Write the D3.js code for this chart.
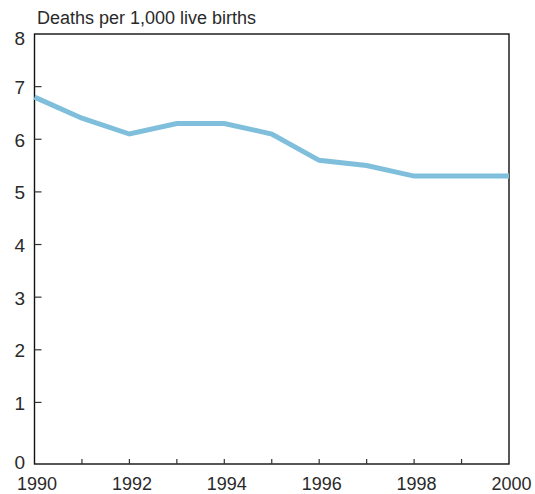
<!DOCTYPE html>
<html><head><meta charset="utf-8">
<script src="https://cdn.jsdelivr.net/npm/d3@7"></script>
<style>body{margin:0;background:#fff}svg{display:block}text{font-family:"Liberation Sans",Arial,sans-serif;fill:#2a2a2a}</style>
</head><body><svg id="c" width="535" height="494"></svg>
<script>
const years = [1990,1991,1992,1993,1994,1995,1996,1997,1998,1999,2000];
const deaths = [6.8,6.4,6.1,6.3,6.3,6.1,5.6,5.5,5.3,5.3,5.3];
const yTickValues = [1,2,3,4,5,6,7];
const yLabels = ["0","1","2","3","4","5","6","7","8"];
const xLabelYears = [1990,1992,1994,1996,1998,2000];
const yTitle = "Deaths per 1,000 live births";

const svg = d3.select("#c");
const L = 34.5, R = 509, T = 34, B = 464;
const x = d3.scaleLinear().domain([1990,2000]).range([L,R]);
const y = d3.scaleLinear().domain([-0.17,8]).range([B,T]);

// frame
svg.append("rect").attr("x",L).attr("y",T).attr("width",R-L).attr("height",B-T)
  .attr("fill","none").attr("stroke","#111").attr("stroke-width",1.4);

// y ticks (inward)
svg.append("g").selectAll("line").data(yTickValues).join("line")
  .attr("x1",L).attr("x2",L+7).attr("y1",d=>y(d)).attr("y2",d=>y(d))
  .attr("stroke","#333").attr("stroke-width",1.2);
// x ticks (inward)
svg.append("g").selectAll("line").data(years.slice(1,-1)).join("line")
  .attr("x1",d=>x(d)).attr("x2",d=>x(d)).attr("y1",B).attr("y2",B-5)
  .attr("stroke","#333").attr("stroke-width",1.2);

// y labels
svg.append("g").selectAll("text").data(yLabels).join("text")
  .attr("x",25).attr("text-anchor","end")
  .attr("y",(d,i)=> i===0 ? B+4.5 : (i===8 ? 45 : y(i)+7.5))
  .attr("font-size",19).text(d=>d);

// x labels
svg.append("g").selectAll("text").data(xLabelYears).join("text")
  .attr("x",d=>x(d)+2.5).attr("y",490).attr("text-anchor","middle")
  .attr("font-size",18).text(d=>d);

// title
svg.append("text").attr("x",37).attr("y",24).attr("font-size",18).text(yTitle);

// line
const line = d3.line().x((d,i)=>x(years[i])).y(d=>y(d));
svg.append("path").datum(deaths).attr("d",line).attr("fill","none")
  .attr("stroke","#7fbfdc").attr("stroke-width",5).attr("stroke-linejoin","miter");
</script></body></html>
